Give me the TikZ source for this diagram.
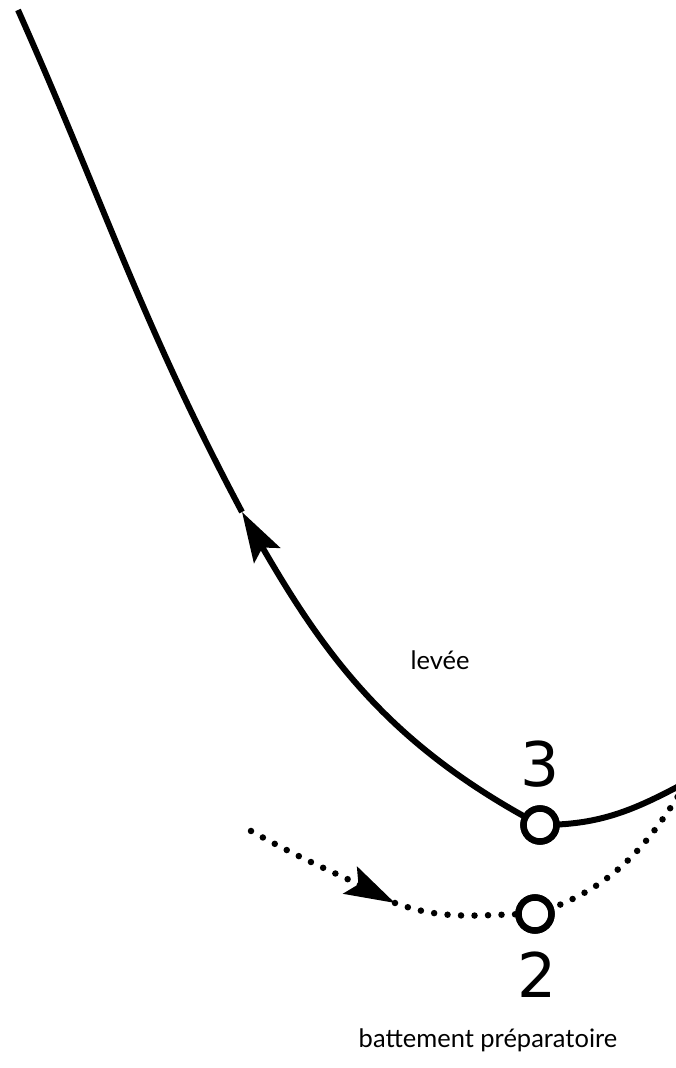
\documentclass[tikz,border=0pt]{standalone}
\usepackage{fontspec}
\setmainfont{Lato}
\newfontfamily\digitfont{DejaVu Sans}
\usetikzlibrary{arrows.meta, positioning}

\begin{document}
\begin{tikzpicture}[
    curve/.style={line width=0.12cm},
    dots/.style={line width=0.13cm, line cap=round, dash pattern=on 0pt off 0.27cm},
    tip/.style={-{Stealth[length=1cm, width=0.6cm, inset=0.18cm]}},
    ring/.style={circle, draw, fill=white, line width=0.13cm,
                 minimum size=0.66cm, inner sep=0pt},
    digit/.style={font=\digitfont\fontsize{35}{35}\selectfont},
    caption/.style={font=\fontsize{14.5}{17}\selectfont}
  ]
    \useasboundingbox (0,0) rectangle (13.5,21.36);

    % positions
    \coordinate (top) at (0.36,21.16);
    \coordinate (up) at (4.84,11.12);
    \coordinate (solidend) at (13.6,5.65);
    \coordinate (start) at (5.02,4.74);
    \coordinate (down) at (7.9,3.3);
    \coordinate (dotend) at (13.6,5.5);

    \node[ring] (c3) at (10.8,4.86) {};
    \node[ring] (c2) at (10.7,3.08) {};

    % levée
    \draw[curve, tip] (c3.center) to[out=152, in=-60] (up);
    \draw[curve] (up) to[out=118, in=-66] (top);
    \draw[curve] (c3.center) to[out=0, in=208] (solidend);

    % battement
    \draw[dots, tip] (start) to[out=-29, in=153] (down);
    \draw[dots] (down) to[out=-20, in=180] (c2.center);
    \draw[dots] (c2.center) to[out=18, in=238] (dotend);

    % rings on top
    \node[ring] at (c3) {};
    \node[ring] at (c2) {};

    % labels
    \node[digit] (n3) at (10.8,6.08) {3};
    \node[digit] (n2) at (10.74,1.86) {2};
    \node[caption] (lev) at (8.8,8.16) {levée};
    \node[caption] (bat) at (9.76,0.56) {battement préparatoire};
  \end{tikzpicture}
\end{document}
